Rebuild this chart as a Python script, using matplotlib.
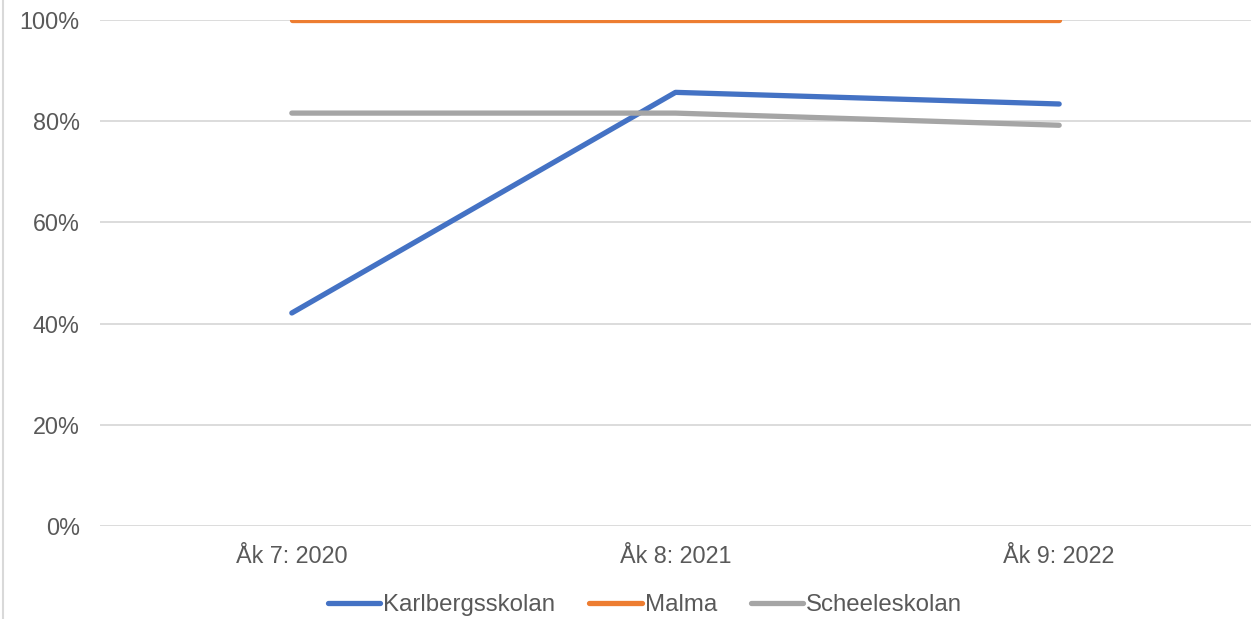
import matplotlib.pyplot as plt
from matplotlib.lines import Line2D
from matplotlib.ticker import PercentFormatter

categories = ["Åk 7: 2020", "Åk 8: 2021", "Åk 9: 2022"]
karlberg = [42.1, 85.7, 83.4]
malma = [100.0, 100.0, 100.0]
scheele = [81.6, 81.6, 79.2]

series = [
    ("Karlbergsskolan", karlberg, "#4472C4"),
    ("Malma", malma, "#ED7D31"),
    ("Scheeleskolan", scheele, "#A5A5A5"),
]

plt.rcParams["font.family"] = ["Liberation Sans", "DejaVu Sans"]
text_color = "#595959"

fig = plt.figure(figsize=(12.51, 6.19), dpi=100)
ax = fig.add_axes([100 / 1251, 93 / 619, 1151 / 1251, 506 / 619])

x = list(range(len(categories)))
for name, vals, color in series:
    ax.plot(x, vals, color=color, linewidth=3.8, label=name,
            solid_capstyle="round", zorder=3)

ax.set_xlim(-0.5, 2.5)
ax.set_ylim(0, 100)
ax.set_yticks([0, 20, 40, 60, 80, 100])
ax.yaxis.set_major_formatter(PercentFormatter(decimals=0))
ax.set_xticks(x)
ax.set_xticklabels(categories)
ax.grid(axis="y", color="#D9D9D9", linewidth=1.3)
ax.set_axisbelow(True)
for s in ax.spines.values():
    s.set_visible(False)
ax.tick_params(length=0, labelsize=16.8, colors=text_color)
ax.tick_params(axis="y", pad=14.5)
ax.tick_params(axis="x", pad=14)

leg = ax.legend(loc="center", bbox_to_anchor=(645 / 1251, 14 / 619),
                bbox_transform=fig.transFigure, ncol=3, frameon=False,
                fontsize=17.3, handlelength=2.2, handletextpad=0.12,
                columnspacing=1.4, labelcolor=text_color)

# thin grey border at the left edge of the picture
fig.add_artist(Line2D([2.5 / 1251, 2.5 / 1251], [0, 1], color="#D9D9D9",
                      linewidth=1.5, transform=fig.transFigure))

fig.savefig("out.png", dpi=100)
